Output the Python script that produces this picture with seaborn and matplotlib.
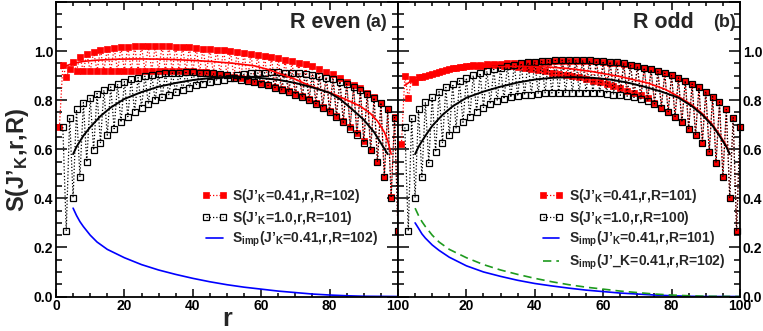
import matplotlib
matplotlib.use('Agg')
import matplotlib.pyplot as plt
from matplotlib.ticker import MultipleLocator
import seaborn as sns

# ---- data ----
r_all = list(range(1, 101))
r_from2 = list(range(2, 101))

# panel (a): S(J'_K=0.41, r, R=102), r = 1..100
s_even_041 = [0.69, 0.943, 0.893, 0.927, 0.955, 0.92, 0.975, 0.918, 0.99, 0.918,
              0.998, 0.918, 1.005, 0.919, 1.01, 0.919, 1.013, 0.92, 1.016, 0.92,
              1.018, 0.92, 1.019, 0.92, 1.02, 0.92, 1.02, 0.92, 1.02, 0.92,
              1.02, 0.92, 1.019, 0.92, 1.018, 0.919, 1.017, 0.918, 1.015, 0.917,
              1.013, 0.916, 1.01, 0.914, 1.008, 0.911, 1.006, 0.907, 1.004, 0.902,
              1.0, 0.896, 0.997, 0.889, 0.993, 0.882, 0.99, 0.876, 0.985, 0.869,
              0.98, 0.862, 0.976, 0.853, 0.97, 0.845, 0.965, 0.836, 0.96, 0.826,
              0.953, 0.815, 0.947, 0.804, 0.938, 0.79, 0.927, 0.774, 0.916, 0.757,
              0.905, 0.737, 0.89, 0.716, 0.875, 0.691, 0.861, 0.666, 0.848, 0.634,
              0.83, 0.596, 0.811, 0.548, 0.789, 0.487, 0.762, 0.405, 0.732, 0.267]

# panel (a): S(J'_K=1.0, r, R=101), r = 2..100
s_even_10 = [0.69, 0.267, 0.729, 0.403, 0.762, 0.487, 0.79, 0.548, 0.81,
             0.596, 0.827, 0.627, 0.841, 0.657, 0.854, 0.684, 0.866, 0.71, 0.876,
             0.733, 0.885, 0.753, 0.892, 0.77, 0.898, 0.785, 0.903, 0.799, 0.906,
             0.811, 0.909, 0.822, 0.911, 0.832, 0.912, 0.842, 0.913, 0.851, 0.913,
             0.86, 0.912, 0.867, 0.911, 0.873, 0.909, 0.879, 0.906, 0.884, 0.903,
             0.889, 0.889, 0.903, 0.884, 0.906, 0.879, 0.909, 0.873, 0.911, 0.867,
             0.912, 0.86, 0.913, 0.851, 0.913, 0.842, 0.912, 0.832, 0.911, 0.822,
             0.909, 0.811, 0.906, 0.799, 0.903, 0.785, 0.898, 0.77, 0.892, 0.753,
             0.885, 0.733, 0.876, 0.71, 0.866, 0.684, 0.854, 0.657, 0.841, 0.627,
             0.827, 0.596, 0.81, 0.548, 0.79, 0.487, 0.762, 0.403, 0.729, 0.267]

# panel (b): S(J'_K=0.41, r, R=101), r = 1..100
s_odd_041 = [0.62, 0.898, 0.81, 0.888, 0.873, 0.894, 0.893, 0.9, 0.902, 0.906,
             0.912, 0.915, 0.92, 0.922, 0.927, 0.93, 0.932, 0.936, 0.936, 0.94,
             0.938, 0.942, 0.94, 0.944, 0.941, 0.946, 0.942, 0.948, 0.942, 0.949,
             0.941, 0.95, 0.94, 0.951, 0.937, 0.952, 0.933, 0.954, 0.929, 0.955,
             0.924, 0.956, 0.918, 0.957, 0.912, 0.958, 0.906, 0.959, 0.901, 0.96,
             0.897, 0.96, 0.893, 0.96, 0.886, 0.959, 0.878, 0.958, 0.872, 0.956,
             0.866, 0.953, 0.858, 0.951, 0.848, 0.948, 0.839, 0.944, 0.83, 0.938,
             0.821, 0.932, 0.81, 0.925, 0.79, 0.917, 0.77, 0.91, 0.753, 0.901,
             0.733, 0.891, 0.71, 0.879, 0.684, 0.866, 0.657, 0.852, 0.627, 0.835,
             0.589, 0.814, 0.544, 0.793, 0.487, 0.764, 0.403, 0.729, 0.267, 0.689]

# panel (b): S(J'_K=1.0, r, R=100), r = 2..100
s_odd_10 = [0.689, 0.267, 0.729, 0.403, 0.762, 0.487, 0.793, 0.544, 0.814,
            0.589, 0.835, 0.627, 0.852, 0.657, 0.866, 0.684, 0.879, 0.71, 0.891,
            0.733, 0.901, 0.753, 0.91, 0.77, 0.918, 0.785, 0.925, 0.797, 0.932,
            0.805, 0.939, 0.811, 0.945, 0.816, 0.95, 0.82, 0.954, 0.823, 0.957,
            0.826, 0.959, 0.828, 0.961, 0.829, 0.962, 0.83, 0.963, 0.831, 0.963,
            0.831, 0.963, 0.831, 0.963, 0.83, 0.962, 0.829, 0.961, 0.828, 0.959,
            0.826, 0.957, 0.823, 0.954, 0.82, 0.95, 0.816, 0.945, 0.811, 0.939,
            0.805, 0.932, 0.797, 0.925, 0.785, 0.918, 0.77, 0.91, 0.753, 0.901,
            0.733, 0.891, 0.71, 0.879, 0.684, 0.866, 0.657, 0.852, 0.627, 0.835,
            0.589, 0.814, 0.544, 0.793, 0.487, 0.762, 0.403, 0.729, 0.267, 0.689]

# smooth curves
r_red_a = [1.5, 3, 5, 8, 12, 18, 25, 32, 40, 46, 52, 58, 62, 66, 70, 74, 78, 82,
           86, 89, 92, 94, 96, 97, 98]
s_red_a = [0.929, 0.94, 0.95, 0.958, 0.963, 0.967, 0.968, 0.967, 0.962, 0.957,
           0.95, 0.94, 0.925, 0.905, 0.885, 0.86, 0.84, 0.82, 0.795, 0.775,
           0.745, 0.715, 0.67, 0.635, 0.58]
r_black_a = [5, 6, 8, 10, 13, 16, 20, 25, 30, 35, 40, 45, 50, 55, 60, 65, 70, 75,
             80, 83, 86, 90, 93, 95, 97]
s_black_a = [0.58, 0.61, 0.655, 0.69, 0.735, 0.77, 0.805, 0.833, 0.855, 0.87,
             0.882, 0.89, 0.895, 0.895, 0.89, 0.883, 0.87, 0.852, 0.83, 0.805,
             0.77, 0.72, 0.67, 0.625, 0.58]
r_red_b = [2, 5, 10, 15, 20, 25, 30, 35, 40, 45, 50, 57, 65, 73, 78, 82, 86, 89,
           92, 94, 96, 97]
s_red_b = [0.86, 0.89, 0.91, 0.922, 0.93, 0.935, 0.937, 0.938, 0.937, 0.934,
           0.929, 0.916, 0.896, 0.87, 0.845, 0.815, 0.78, 0.745, 0.7, 0.66,
           0.615, 0.58]
r_black_b = [5, 6, 8, 10, 13, 16, 20, 25, 30, 35, 40, 45, 51, 57, 62, 67, 72, 77,
             82, 86, 89, 92, 94, 96, 97]
s_black_b = [0.58, 0.61, 0.655, 0.695, 0.74, 0.775, 0.81, 0.835, 0.855, 0.872,
             0.884, 0.891, 0.894, 0.891, 0.884, 0.872, 0.855, 0.835, 0.81, 0.775,
             0.74, 0.695, 0.655, 0.61, 0.58]

# impurity curves
r_imp = [5, 6, 7, 8, 10, 12, 15, 20, 25, 30, 35, 40, 45, 50, 55, 60, 65, 70, 75,
         80, 85, 90, 100]
simp_r102 = [0.36, 0.33, 0.305, 0.285, 0.25, 0.222, 0.192, 0.158, 0.13, 0.108,
             0.09, 0.074, 0.06, 0.048, 0.038, 0.03, 0.022, 0.016, 0.01, 0.006,
             0.003, 0.001, 0.0]
simp_r101 = [0.3, 0.278, 0.255, 0.238, 0.21, 0.188, 0.16, 0.125, 0.1, 0.082,
             0.066, 0.053, 0.043, 0.034, 0.026, 0.02, 0.014, 0.01, 0.006, 0.003,
             0.001, 0.0, 0.0]

xtick_vals = [0, 20, 40, 60, 80, 100]
xtick_labels_a = ['0', '20', '40', '60', '80', '100']
xtick_labels_b = ['', '20', '40', '60', '80', '100']  # its 0 sits under the 100 of (a)
ytick_vals = [0.0, 0.2, 0.4, 0.6, 0.8, 1.0, 1.2]
ytick_labels = ['0.0', '0.2', '0.4', '0.6', '0.8', '1.0', '']

# ---- style ----
sns.set_theme(style='ticks')
plt.rcParams['font.family'] = ['Liberation Sans', 'DejaVu Sans']
plt.rcParams['font.weight'] = 'bold'
plt.rcParams['mathtext.fontset'] = 'custom'
plt.rcParams['mathtext.rm'] = 'Liberation Sans:bold'
plt.rcParams['mathtext.it'] = 'Liberation Sans:bold'
plt.rcParams['mathtext.bf'] = 'Liberation Sans:bold'
plt.rcParams['mathtext.default'] = 'rm'

RED = '#ff0000'
BLUE = '#0000ff'
GREEN = '#1e9a1e'
DOT = (0, (1, 1.6))

fig = plt.figure(figsize=(7.63, 3.31), dpi=100)
ax1 = fig.add_axes([56 / 763, 34.5 / 331, 342 / 763, 294.5 / 331])
ax2 = fig.add_axes([398 / 763, 34.5 / 331, 342 / 763, 294.5 / 331])


def squares(ax, r, s, filled, label):
    col = RED if filled else 'black'
    sns.lineplot(x=r, y=s, ax=ax, color=col, linestyle=DOT, linewidth=0.9,
                 marker='s', markersize=4.9,
                 markerfacecolor=col if filled else 'none',
                 markeredgecolor=col, markeredgewidth=0.5 if filled else 0.9,
                 label=label, estimator=None, sort=False, clip_on=False)


def curve(ax, r, s, col, label=None, ls='-', lw=1.2):
    sns.lineplot(x=r, y=s, ax=ax, color=col, linestyle=ls, linewidth=lw,
                 label=label, estimator=None, sort=False)


# panel (a)
squares(ax1, r_all, s_even_041, True, 'S(J’$_K$=0.41,r,R=102)')
squares(ax1, r_from2, s_even_10, False, 'S(J’$_K$=1.0,r,R=101)')
curve(ax1, r_red_a, s_red_a, RED)
curve(ax1, r_black_a, s_black_a, 'black', lw=1.4)
curve(ax1, r_imp, simp_r102, BLUE, 'S$_{imp}$(J’$_K$=0.41,r,R=102)')

# panel (b)
squares(ax2, r_all, s_odd_041, True, 'S(J’$_K$=0.41,r,R=101)')
squares(ax2, r_from2, s_odd_10, False, 'S(J’$_K$=1.0,r,R=100)')
curve(ax2, r_red_b, s_red_b, RED)
curve(ax2, r_black_b, s_black_b, 'black', lw=1.4)
curve(ax2, r_imp, simp_r101, BLUE, 'S$_{imp}$(J’$_K$=0.41,r,R=101)')
curve(ax2, r_imp, simp_r102, GREEN, 'S$_{imp}$(J’_K=0.41,r,R=102)', ls=(0, (5, 3)))

for ax, xlabs in ((ax1, xtick_labels_a), (ax2, xtick_labels_b)):
    ax.set_xlim(0, 100)
    ax.set_ylim(0, 1.2)
    ax.set_xticks(xtick_vals)
    ax.set_xticklabels(xlabs)
    ax.xaxis.set_minor_locator(MultipleLocator(5))
    ax.set_yticks(ytick_vals)
    ax.set_yticklabels(ytick_labels)
    ax.yaxis.set_minor_locator(MultipleLocator(0.05))
    ax.tick_params(which='both', direction='in', top=True, right=True,
                   colors='black', labelsize=10, width=1.1, pad=2)
    ax.tick_params(axis='x', which='major', length=6)
    ax.tick_params(axis='x', which='minor', length=3)
    ax.tick_params(axis='y', which='major', length=8)
    ax.tick_params(axis='y', which='minor', length=4)
    for sp in ax.spines.values():
        sp.set_linewidth(1.3)
        sp.set_color('black')
    for lab in ax.get_xticklabels() + ax.get_yticklabels():
        lab.set_fontweight('bold')
    ax.set_xlabel('')
    ax.set_ylabel('')

ax2.tick_params(labelleft=False, labelright=True)

leg_kw = dict(loc='upper left', frameon=False, fontsize=10, handlelength=1.8,
              numpoints=2, handletextpad=0.4, labelspacing=0.25, borderaxespad=0)
ax1.legend(bbox_to_anchor=(0.41, 0.39), **leg_kw)
ax2.legend(bbox_to_anchor=(0.395, 0.39), **leg_kw)

ax1.text(68.4, 1.116, 'R even', fontsize=15.5, va='center', fontweight='bold')
ax1.text(90.5, 1.116, '(a)', fontsize=13, va='center', fontweight='bold')
ax2.text(68.7, 1.116, 'R odd', fontsize=15.5, va='center', fontweight='bold')
ax2.text(92, 1.116, '(b)', fontsize=13, va='center', fontweight='bold')

fig.text(18 / 763, 1 - 160 / 331, 'S(J’$_K$,r,R)', rotation=90, fontsize=17,
         ha='center', va='center', fontweight='bold')
fig.text(227 / 763, 0.0, 'r', fontsize=18, ha='center', va='bottom',
         fontweight='bold')

fig.savefig('out.png', dpi=100)
